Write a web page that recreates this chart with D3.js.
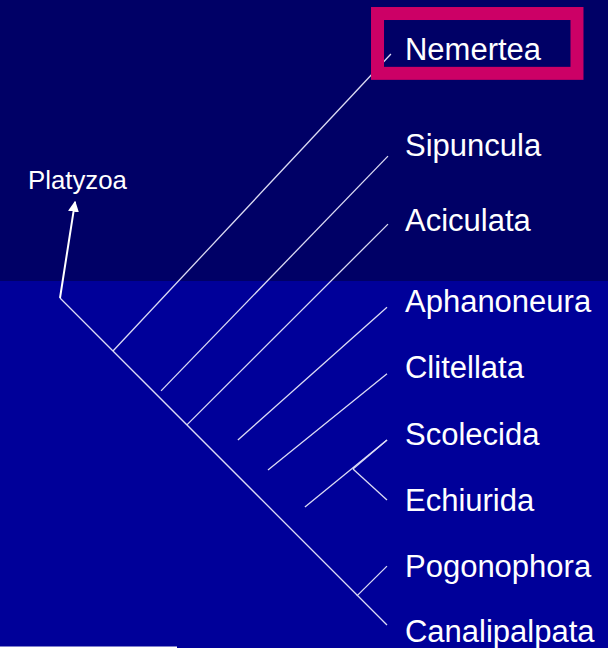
<!DOCTYPE html>
<html><head><meta charset="utf-8">
<script src="https://cdn.jsdelivr.net/npm/d3@7"></script>
<style>html,body{margin:0;padding:0;background:#000099;overflow:hidden}</style>
</head><body>
<svg id="c" width="608" height="648"></svg>
<script>
// Tree data in abstract units (root = 0,0 ; main axis ends at 10,10)
const taxa = ["Nemertea","Sipuncula","Aciculata","Aphanoneura","Clitellata","Scolecida","Echiurida","Pogonophora","Canalipalpata"];
const branchStartX = [1.62, 3.09, 3.88, 5.44, 6.36, 8.96, 8.96, 9.08, 0];
const branchStartY = [1.62, 2.84, 3.88, 4.34, 5.26, 5.23, 5.23, 9.11, 0];
const tipX = [10.12, 10.03, 10.03, 10.0, 10.0, 10.0, 10.0, 10.0, 10.0];
const tipY = [-7.46, -4.34, -2.26, 0.28, 2.32, 4.34, 6.18, 8.20, 10.0];
const labelY = [-7.28, -4.34, -2.05, 0.43, 2.45, 4.50, 6.51, 8.53, 10.52];
// extra internal branch (Scolecida+Echiurida stem)
const stemStart = [7.49, 6.39];
const outgroupLabel = "Platyzoa";
const arrowTip = [0.46, -2.94];

const svg = d3.select("#c");
const W = 608, H = 648;
const x = d3.scaleLinear().domain([0, 10]).range([60, 387]);
const y = d3.scaleLinear().domain([0, 10]).range([298, 625]);

// background bands
svg.append("rect").attr("x",0).attr("y",0).attr("width",W).attr("height",H).attr("fill","#000099");
svg.append("rect").attr("x",0).attr("y",0).attr("width",W).attr("height",y(-0.52)).attr("fill","#000066");

const defs = svg.append("defs");
defs.append("marker").attr("id","arr").attr("viewBox","0 0 10 10").attr("refX",9).attr("refY",5)
  .attr("markerWidth",5.5).attr("markerHeight",5.5).attr("orient","auto")
  .append("path").attr("d","M0,0 L10,5 L0,10 z").attr("fill","#fff");

const lineCol = "#dcdcf4";
const g = svg.append("g");
// main axis
g.append("line").attr("x1",x(0)).attr("y1",y(0)).attr("x2",x(10)).attr("y2",y(10))
  .attr("stroke",lineCol).attr("stroke-width",1.3);
// branches
taxa.forEach((t,i)=>{
  if (i === taxa.length-1) return;
  g.append("line").attr("x1",x(branchStartX[i])).attr("y1",y(branchStartY[i]))
    .attr("x2",x(tipX[i])).attr("y2",y(tipY[i]))
    .attr("stroke",lineCol).attr("stroke-width",1.3);
});
g.append("line").attr("x1",x(stemStart[0])).attr("y1",y(stemStart[1]))
  .attr("x2",x(tipX[5])).attr("y2",y(tipY[5]))
  .attr("stroke",lineCol).attr("stroke-width",1.3);

// Platyzoa arrow
svg.append("line").attr("x1",x(0)).attr("y1",y(0)).attr("x2",x(arrowTip[0])).attr("y2",y(arrowTip[1]))
  .attr("stroke","#fff").attr("stroke-width",2).attr("marker-end","url(#arr)");
svg.append("text").attr("x",x(-0.98)).attr("y",y(-3.33)).text(outgroupLabel)
  .attr("fill","#fff").attr("font-family","'Liberation Sans', Arial, sans-serif").attr("font-size",25.8);

// labels
svg.selectAll("text.tax").data(taxa).join("text").attr("class","tax")
  .attr("x",x(10.55)).attr("y",(d,i)=>y(labelY[i])).text(d=>d)
  .attr("fill","#fff").attr("font-family","'Liberation Sans', Arial, sans-serif").attr("font-size",31);

// highlight box
svg.append("rect").attr("x",x(9.71)).attr("y",y(-8.70))
  .attr("width",x(15.81)-x(9.71)).attr("height",y(-6.87)-y(-8.70))
  .attr("fill","none").attr("stroke","#cc0066").attr("stroke-width",13);

// bottom-left white rule
svg.append("line").attr("x1",0).attr("y1",H-0.5).attr("x2",177).attr("y2",H-0.5)
  .attr("stroke","#fff").attr("stroke-width",2);
</script>
</body></html>
